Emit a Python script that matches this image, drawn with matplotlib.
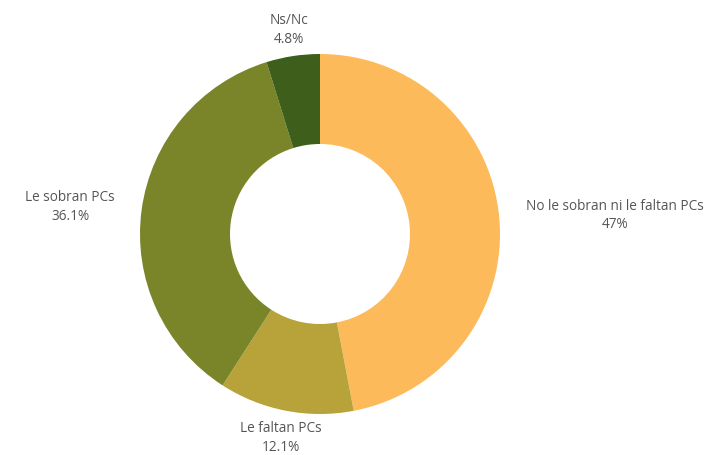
import numpy as np
import matplotlib.pyplot as plt

labels = ['No le sobran ni le faltan PCs', 'Le faltan PCs', 'Le sobran PCs', 'Ns/Nc']
values = [47, 12.1, 36.1, 4.8]
pct_text = ['47%', '12.1%', '36.1%', '4.8%']
colors = ['#FCBA5A', '#B8A33B', '#7A8429', '#3E5F1B']

W, H = 728, 456
fig = plt.figure(figsize=(W / 100, H / 100), dpi=100)
ax = fig.add_axes([0, 0, 1, 1])

# center in pixel space (y measured from the bottom)
cx, cy, R = 320, H - 235, 180
wedges, _ = ax.pie(values, colors=colors, startangle=90, counterclock=False,
                   radius=R, center=(cx, cy), frame=True,
                   wedgeprops=dict(width=R * 0.5, linewidth=0))
ax.set_xlim(0, W)
ax.set_ylim(0, H)
ax.set_aspect('equal')
ax.axis('off')

# labels outside each slice, aligned away from the center
for w, lab, pt in zip(wedges, labels, pct_text):
    ang = np.deg2rad((w.theta1 + w.theta2) / 2)
    r = 207
    x = cx + r * np.cos(ang)
    y = cy + r * np.sin(ang)
    c = np.cos(ang)
    ha = 'center' if abs(c) < 0.3 else ('left' if c > 0 else 'right')
    ax.text(x, y, lab + '\n' + pt, ha=ha, va='center', fontsize=9.8,
            color='#555555', family=['Open Sans', 'DejaVu Sans'],
            multialignment='center', linespacing=1.35)

fig.savefig('out.png', dpi=100)
